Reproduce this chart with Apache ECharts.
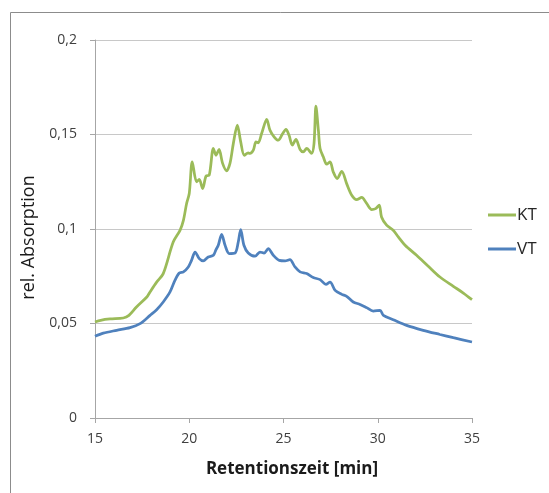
<!DOCTYPE html>
<html>
<head>
<meta charset="utf-8">
<script src="https://cdn.jsdelivr.net/npm/echarts@6/dist/echarts.min.js"></script>
<style>
  html, body { margin: 0; padding: 0; background: #ffffff; }
  #chart { width: 549px; height: 493px; }
</style>
</head>
<body>
<div id="chart"></div>
<script>
// Retention time (min) and relative absorption for the two samples
const ktTime = [15.0, 15.3, 15.8, 16.5, 16.8, 17.2, 17.75, 17.92, 18.27, 18.62, 19.15, 19.51, 19.69, 19.86, 20.0, 20.16, 20.39, 20.53, 20.71, 20.89, 21.06, 21.28, 21.42, 21.58, 21.77, 21.98, 22.16, 22.34, 22.55, 22.73, 22.92, 23.13, 23.22, 23.4, 23.54, 23.66, 23.84, 24.11, 24.28, 24.5, 24.72, 24.94, 25.13, 25.29, 25.47, 25.66, 25.88, 26.05, 26.23, 26.49, 26.62, 26.72, 26.85, 26.94, 27.11, 27.29, 27.47, 27.64, 27.85, 28.09, 28.35, 28.62, 28.88, 29.15, 29.41, 29.68, 29.89, 30.08, 30.2, 30.47, 30.82, 31.09, 31.45, 32.06, 32.68, 33.3, 34.01, 34.54, 35.0];
const ktValues = [0.0508, 0.0517, 0.0524, 0.0529, 0.0543, 0.0587, 0.064, 0.0667, 0.0719, 0.0764, 0.0931, 0.0993, 0.1046, 0.1135, 0.1188, 0.1355, 0.1249, 0.1262, 0.1214, 0.128, 0.1285, 0.1426, 0.139, 0.1421, 0.1347, 0.1308, 0.1347, 0.1453, 0.155, 0.1461, 0.139, 0.1403, 0.140, 0.1417, 0.1461, 0.1456, 0.1505, 0.158, 0.1523, 0.1488, 0.147, 0.1502, 0.1527, 0.1497, 0.1444, 0.1474, 0.1421, 0.1408, 0.1426, 0.140, 0.1453, 0.165, 0.1523, 0.1426, 0.1382, 0.1343, 0.1355, 0.1302, 0.1267, 0.1305, 0.124, 0.1179, 0.1156, 0.1167, 0.1135, 0.1103, 0.1108, 0.1126, 0.1064, 0.102, 0.0993, 0.0958, 0.0914, 0.0861, 0.0803, 0.0746, 0.0697, 0.0661, 0.0626];

const vtTime = [15.0, 15.44, 16.15, 16.86, 17.39, 17.92, 18.27, 18.62, 18.98, 19.24, 19.47, 19.69, 19.95, 20.12, 20.31, 20.53, 20.74, 21.01, 21.28, 21.42, 21.54, 21.72, 21.9, 22.12, 22.43, 22.6, 22.73, 22.9, 23.13, 23.49, 23.75, 23.97, 24.19, 24.46, 24.78, 25.08, 25.34, 25.61, 25.88, 26.23, 26.58, 26.94, 27.25, 27.47, 27.74, 28.09, 28.35, 28.7, 29.06, 29.41, 29.76, 30.12, 30.3, 30.82, 31.53, 32.41, 33.3, 34.01, 35.0];
const vtValues = [0.0432, 0.0449, 0.0464, 0.0478, 0.0499, 0.0543, 0.0573, 0.0614, 0.0667, 0.0728, 0.0767, 0.0773, 0.0799, 0.0834, 0.0878, 0.0843, 0.0831, 0.0852, 0.0861, 0.0891, 0.0914, 0.0972, 0.0914, 0.087, 0.0873, 0.0931, 0.0997, 0.0914, 0.0873, 0.0856, 0.0878, 0.0873, 0.0896, 0.0861, 0.0834, 0.0831, 0.0838, 0.0799, 0.0773, 0.0764, 0.0743, 0.0732, 0.0707, 0.0719, 0.0675, 0.0654, 0.0644, 0.0614, 0.0601, 0.0584, 0.0566, 0.0570, 0.0543, 0.052, 0.049, 0.0464, 0.0442, 0.0425, 0.0402];

const seriesNames = ['KT', 'VT'];
const seriesColors = ['#9BBB59', '#4F81BD'];

const xTitle = 'Retentionszeit [min]';
const yTitle = 'rel. Absorption';

const pairs = (xs, ys) => xs.map((x, i) => [x, ys[i]]);
const fontFamily = '"Open Sans", "Noto Sans", sans-serif';

const chart = echarts.init(document.getElementById('chart'), null, { renderer: 'canvas' });

chart.setOption({
  backgroundColor: '#ffffff',
  animation: false,
  textStyle: { fontFamily: fontFamily },
  graphic: [
    {
      // outer chart frame (left and top edges visible)
      type: 'rect',
      left: 8, top: 10,
      shape: { width: 700, height: 700 },
      style: { fill: 'none', stroke: '#8c8c8c', lineWidth: 1 },
      silent: true
    }
  ],
  grid: { left: 95, right: 77, top: 40, bottom: 75 },
  legend: {
    orient: 'vertical',
    left: 483,
    top: 199,
    icon: 'rect',
    itemWidth: 28,
    itemHeight: 3,
    itemGap: 12,
    data: seriesNames,
    textStyle: { fontFamily: fontFamily, fontSize: 17, color: '#262626', padding: [0, 0, 0, -4], lineHeight: 22 }
  },
  xAxis: {
    type: 'value',
    min: 15, max: 35, interval: 5,
    name: xTitle,
    nameLocation: 'middle',
    nameGap: 43,
    nameTextStyle: { fontFamily: fontFamily, fontSize: 17, fontWeight: 'bold', color: '#1a1a1a', padding: [0, 0, 0, 17] },
    axisLine: { show: true, onZero: false, lineStyle: { color: '#a6a6a6', width: 1 } },
    axisTick: { show: true, length: 5, lineStyle: { color: '#a6a6a6' } },
    axisLabel: { margin: 14, fontSize: 14, color: '#404040', fontFamily: fontFamily },
    splitLine: { show: false }
  },
  yAxis: {
    type: 'value',
    min: 0, max: 0.2, interval: 0.05,
    name: yTitle,
    nameLocation: 'middle',
    nameGap: 57,
    nameTextStyle: { fontFamily: fontFamily, fontSize: 18, color: '#1a1a1a', padding: [0, 0, 0, -17] },
    axisLine: { show: true, lineStyle: { color: '#a6a6a6', width: 1 } },
    axisTick: { show: true, length: 5, lineStyle: { color: '#a6a6a6' } },
    axisLabel: {
      margin: 18, fontSize: 14, color: '#404040', fontFamily: fontFamily,
      formatter: v => String(parseFloat(v.toFixed(2))).replace('.', ',')
    },
    splitLine: { show: true, lineStyle: { color: '#c8c8c8', width: 1 } }
  },
  series: [
    {
      name: seriesNames[0],
      type: 'line',
      data: pairs(ktTime, ktValues),
      smooth: 0.3,
      symbol: 'none',
      lineStyle: { color: seriesColors[0], width: 2.75 },
      itemStyle: { color: seriesColors[0] }
    },
    {
      name: seriesNames[1],
      type: 'line',
      data: pairs(vtTime, vtValues),
      smooth: 0.3,
      symbol: 'none',
      lineStyle: { color: seriesColors[1], width: 2.75 },
      itemStyle: { color: seriesColors[1] }
    }
  ]
});
</script>
</body>
</html>
